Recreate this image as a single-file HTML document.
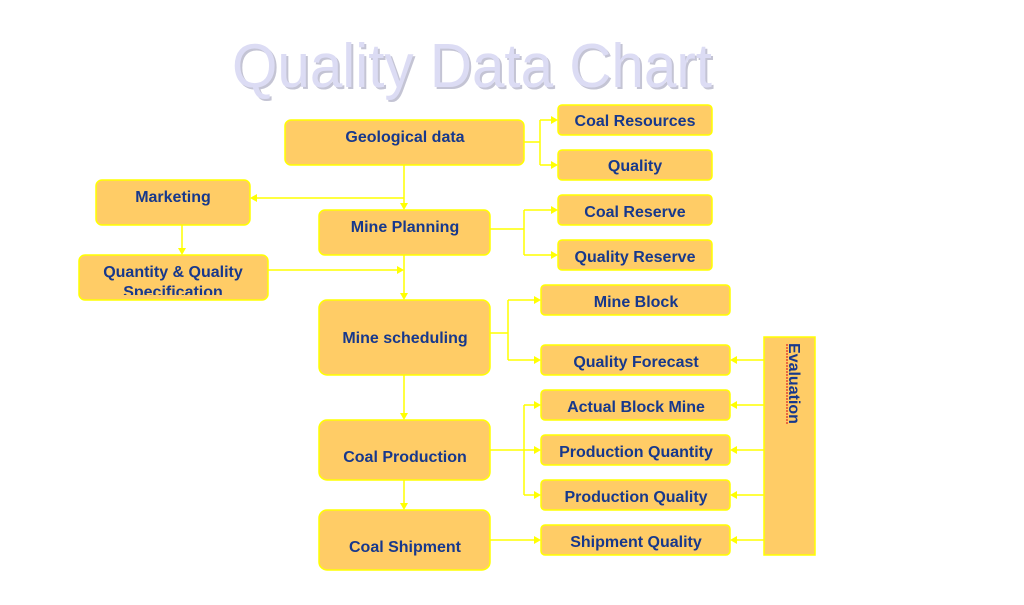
<!DOCTYPE html>
<html><head><meta charset="utf-8"><style>
html,body{margin:0;padding:0;background:#fff;width:1024px;height:605px;overflow:hidden}
svg{display:block}
text{font-family:"Liberation Sans",Arial,sans-serif}
.b{fill:#ffcc66;stroke:#ffff00;stroke-width:1.5}
.t{font-weight:bold;font-size:16px;fill:#17388c;text-anchor:middle}
.l{stroke:#ffff00;stroke-width:1.5;fill:none}
.a{fill:#ffff00}
</style></head><body>
<svg width="1024" height="605" viewBox="0 0 1024 605" xmlns="http://www.w3.org/2000/svg">
<text x="234" y="89" font-size="62" fill="#c4c4d4" textLength="480" lengthAdjust="spacingAndGlyphs">Quality Data Chart</text>
<text x="232" y="87" font-size="62" fill="#dcdcf4" textLength="480" lengthAdjust="spacingAndGlyphs">Quality Data Chart</text>

<g class="l">
<path d="M524 142H540M540 120V165M540 120H552M540 165H552"/>
<path d="M404 165V204M404 198H256"/>
<path d="M182 225V249"/>
<path d="M268 270H398"/>
<path d="M404 255V294"/>
<path d="M490 229H524M524 210V255M524 210H552M524 255H552"/>
<path d="M490 333H508M508 300V360M508 300H535M508 360H535"/>
<path d="M404 375V414"/>
<path d="M490 450H524M524 405V495M524 405H535M524 450H535M524 495H535"/>
<path d="M404 480V504"/>
<path d="M490 540H535"/>
<path d="M764 360H736M764 405H736M764 450H736M764 495H736M764 540H736"/>
</g>
<g class="a">
<path d="M558 120l-7-4v8zM558 165l-7-4v8z"/>
<path d="M404 210l-4-7h8z"/>
<path d="M250 198l7-4v8z"/>
<path d="M182 255l-4-7h8z"/>
<path d="M404 270l-7-4v8z"/>
<path d="M404 300l-4-7h8z"/>
<path d="M558 210l-7-4v8zM558 255l-7-4v8z"/>
<path d="M541 300l-7-4v8zM541 360l-7-4v8z"/>
<path d="M404 420l-4-7h8z"/>
<path d="M541 405l-7-4v8zM541 450l-7-4v8zM541 495l-7-4v8z"/>
<path d="M404 510l-4-7h8z"/>
<path d="M541 540l-7-4v8z"/>
<path d="M730 360l7-4v8zM730 405l7-4v8zM730 450l7-4v8zM730 495l7-4v8zM730 540l7-4v8z"/>
</g>

<rect class="b" x="285" y="120" width="239" height="45" rx="6"/>
<text class="t" x="405" y="142">Geological data</text>
<rect class="b" x="558" y="105" width="154" height="30" rx="4"/>
<text class="t" x="635" y="126">Coal Resources</text>
<rect class="b" x="558" y="150" width="154" height="30" rx="4"/>
<text class="t" x="635" y="171">Quality</text>
<rect class="b" x="96" y="180" width="154" height="45" rx="6"/>
<text class="t" x="173" y="202">Marketing</text>
<rect class="b" x="319" y="210" width="171" height="45" rx="6"/>
<text class="t" x="405" y="232">Mine Planning</text>
<rect class="b" x="558" y="195" width="154" height="30" rx="4"/>
<text class="t" x="635" y="217">Coal Reserve</text>
<rect class="b" x="558" y="240" width="154" height="30" rx="4"/>
<text class="t" x="635" y="262">Quality Reserve</text>
<rect class="b" x="79" y="255" width="189" height="45" rx="6"/>
<text class="t" x="173" y="277">Quantity &amp; Quality</text>
<clipPath id="c"><rect x="79" y="255" width="189" height="40"/></clipPath>
<text class="t" x="173" y="297" clip-path="url(#c)">Specification</text>
<rect class="b" x="319" y="300" width="171" height="75" rx="8"/>
<text class="t" x="405" y="343">Mine scheduling</text>
<rect class="b" x="541" y="285" width="189" height="30" rx="4"/>
<text class="t" x="636" y="307">Mine Block</text>
<rect class="b" x="541" y="345" width="189" height="30" rx="4"/>
<text class="t" x="636" y="367">Quality Forecast</text>
<rect class="b" x="319" y="420" width="171" height="60" rx="8"/>
<text class="t" x="405" y="462">Coal Production</text>
<rect class="b" x="541" y="390" width="189" height="30" rx="4"/>
<text class="t" x="636" y="412">Actual Block Mine</text>
<rect class="b" x="541" y="435" width="189" height="30" rx="4"/>
<text class="t" x="636" y="457">Production Quantity</text>
<rect class="b" x="541" y="480" width="189" height="30" rx="4"/>
<text class="t" x="636" y="502">Production Quality</text>
<rect class="b" x="319" y="510" width="171" height="60" rx="8"/>
<text class="t" x="405" y="552">Coal Shipment</text>
<rect class="b" x="541" y="525" width="189" height="30" rx="4"/>
<text class="t" x="636" y="547">Shipment Quality</text>
<rect x="764" y="337" width="51" height="218" fill="#ffcc66" stroke="#ffff00" stroke-width="1.5"/>
<text class="t" transform="translate(789,343) rotate(90)" x="0" y="0" style="text-anchor:start">Evaluation</text>
<path d="M787 344v80" stroke="#dd2222" stroke-width="1.2" stroke-dasharray="2 1"/>
</svg>
</body></html>
